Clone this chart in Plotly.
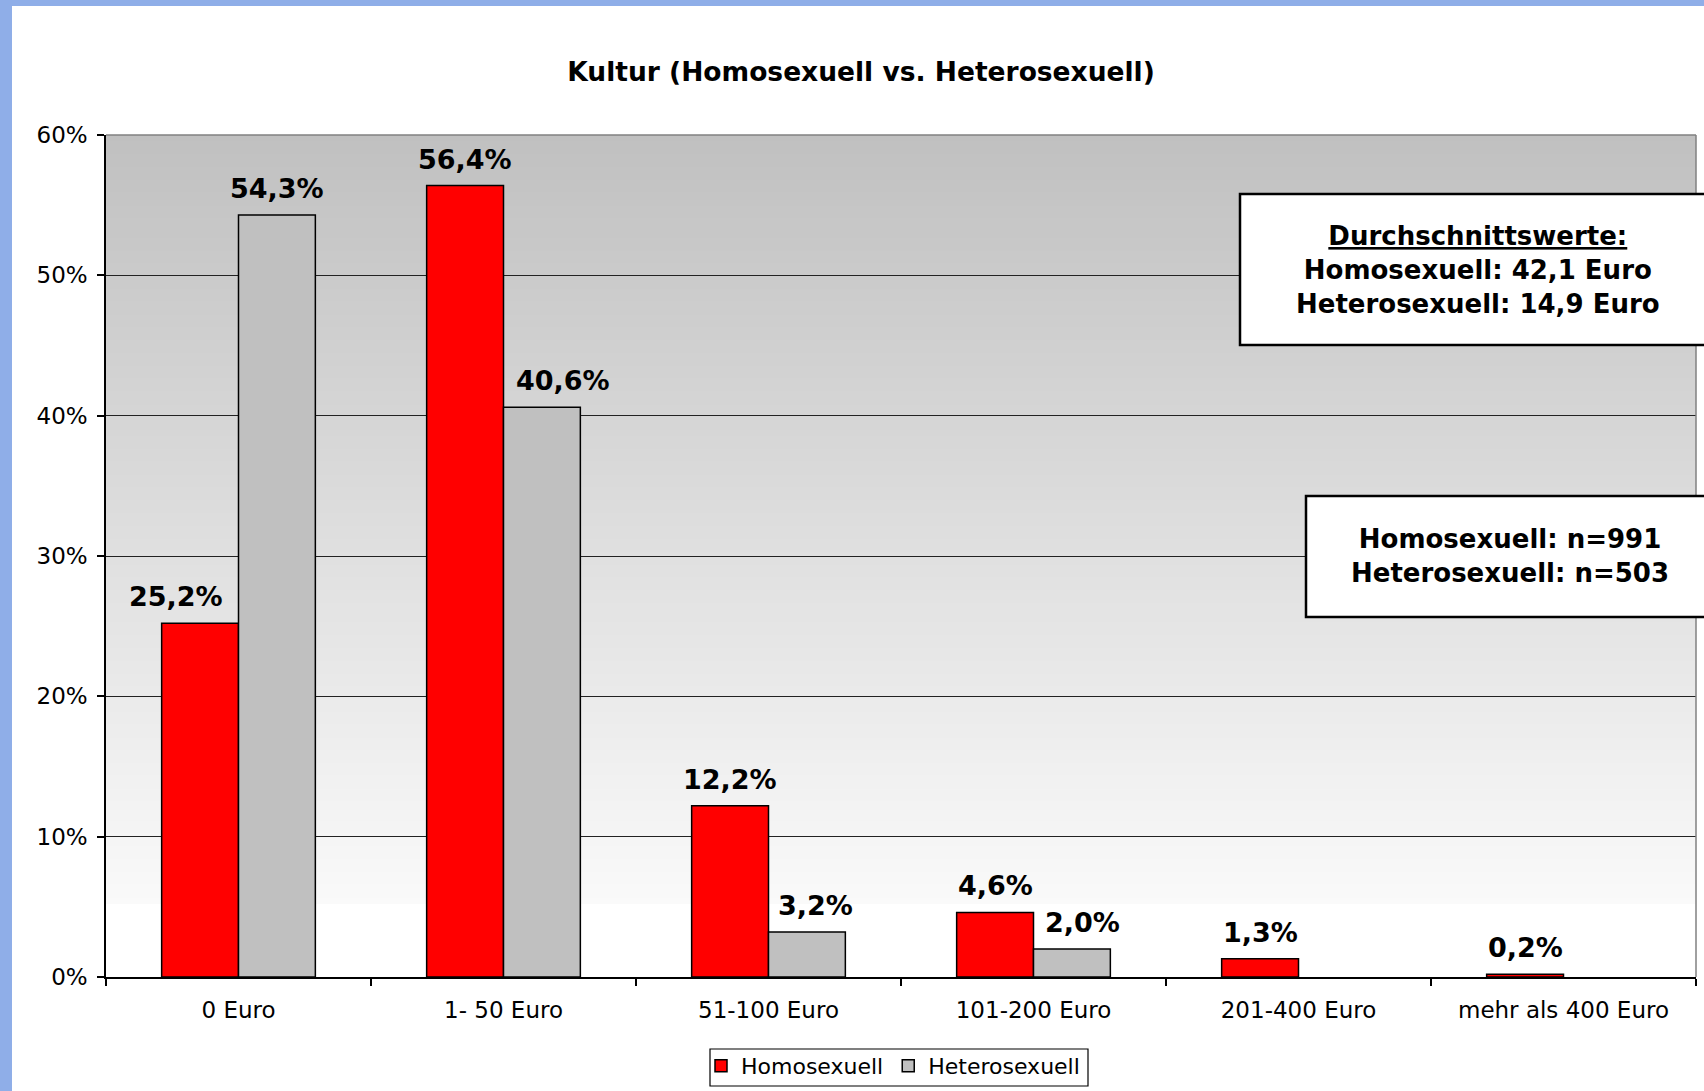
import plotly.graph_objects as go

categories = ['0 Euro', '1- 50 Euro', '51-100 Euro', '101-200 Euro',
              '201-400 Euro', 'mehr als 400 Euro']
homo = [25.2, 56.4, 12.2, 4.6, 1.3, 0.2]
hetero = [54.3, 40.6, 3.2, 2.0, None, None]
y_ticks = [0, 10, 20, 30, 40, 50, 60]

avg_text = '<u>Durchschnittswerte:</u><br>Homosexuell: 42,1 Euro<br>Heterosexuell: 14,9 Euro'
n_text = 'Homosexuell: n=991<br>Heterosexuell: n=503'

W, H = 1704, 1091
L, R, T, B = 106, 8, 135, 114
pw, ph = W - L - R, H - T - B
FONT = 'DejaVu Sans'
bw = 0.29
# horizontal nudges (px) of some data labels, as in the original layout
homo_nudge = [-24, 0, 0, 0, 0, 0]
hetero_nudge = [0, 21, 9, 11, 0, 0]


# pixel -> paper coords
def px(x):
    return (x - L) / pw


def py(y):
    return (H - B - y) / ph


def fmt(v):
    return f'{v:.1f}%'.replace('.', ',')


idx = list(range(len(categories)))

fig = go.Figure()
fig.add_trace(go.Bar(x=idx, y=homo, name='Homosexuell', width=bw, offset=-bw,
                     marker=dict(color='#ff0000', line=dict(color='black', width=1.5))))
fig.add_trace(go.Bar(x=idx, y=hetero, name='Heterosexuell', width=bw, offset=0,
                     marker=dict(color='#c0c0c0', line=dict(color='black', width=1.5))))

shapes = []
# gradient background of plot area (bands overlap a little to avoid seams)
n_bands = 120
g_end = py(904)
step = (1 - g_end) / n_bands
for k in range(n_bands):
    y1 = 1 - step * k
    y0 = max(g_end, y1 - step * 1.8)
    c = int(round(192 + (250 - 192) * (k + 0.5) / n_bands))
    shapes.append(dict(type='rect', xref='x domain', yref='y domain', x0=0, x1=1,
                       y0=y0, y1=y1, fillcolor=f'rgb({c},{c},{c})',
                       line=dict(width=0), layer='below'))
# top / right border of plot area
shapes.append(dict(type='line', xref='x domain', yref='y domain', x0=0, x1=1, y0=1, y1=1,
                   line=dict(color='#808080', width=1.5)))
shapes.append(dict(type='line', xref='x domain', yref='y domain', x0=1, x1=1, y0=0, y1=1,
                   line=dict(color='#808080', width=1.5)))
# info boxes
shapes.append(dict(type='rect', xref='paper', yref='paper', x0=px(1240), x1=px(1725),
                   y0=py(345), y1=py(194), fillcolor='white', line=dict(color='black', width=2.5)))
shapes.append(dict(type='rect', xref='paper', yref='paper', x0=px(1306), x1=px(1725),
                   y0=py(617), y1=py(496), fillcolor='white', line=dict(color='black', width=2.5)))
# legend frame
shapes.append(dict(type='rect', xref='paper', yref='paper', x0=px(710), x1=px(1088),
                   y0=py(1086), y1=py(1049), fillcolor='white', line=dict(color='black', width=1.2)))
# blue frame of the page
shapes.append(dict(type='rect', xref='paper', yref='paper', x0=px(0), x1=px(12),
                   y0=py(H), y1=py(0), fillcolor='#8faee8', line=dict(width=0)))
shapes.append(dict(type='rect', xref='paper', yref='paper', x0=px(0), x1=px(W),
                   y0=py(6), y1=py(0), fillcolor='#8faee8', line=dict(width=0)))

annotations = []
for i in idx:
    for v, off, nx in ((homo[i], -bw / 2, homo_nudge[i]), (hetero[i], bw / 2, hetero_nudge[i])):
        if v is None:
            continue
        annotations.append(dict(x=i + off, y=v, text=fmt(v), showarrow=False,
                                yanchor='bottom', yshift=9, xshift=nx,
                                font=dict(family=FONT, size=27, color='black', weight='bold')))
annotations.append(dict(xref='paper', yref='paper', x=px(1478), y=py(270), text=avg_text,
                        showarrow=False, xanchor='center', yanchor='middle',
                        font=dict(family=FONT, size=26, color='black', weight='bold')))
annotations.append(dict(xref='paper', yref='paper', x=px(1510), y=py(556), text=n_text,
                        showarrow=False, xanchor='center', yanchor='middle',
                        font=dict(family=FONT, size=26, color='black', weight='bold')))

fig.update_layout(
    width=W, height=H,
    margin=dict(l=L, r=R, t=T, b=B, autoexpand=False),
    paper_bgcolor='white', plot_bgcolor='white',
    font=dict(family=FONT, size=22, color='black'),
    title=dict(text='Kultur (Homosexuell vs. Heterosexuell)', xref='container',
               x=861 / W, xanchor='center', yref='container', y=1 - 72 / H, yanchor='middle',
               font=dict(family=FONT, size=26.5, color='black', weight='bold')),
    barmode='overlay',
    showlegend=True,
    legend=dict(orientation='h', x=px(893), xanchor='center', y=py(1045), yanchor='top',
                bgcolor='rgba(0,0,0,0)', borderwidth=0, itemwidth=30,
                font=dict(family=FONT, size=22, color='black'), traceorder='normal'),
    shapes=shapes,
    annotations=annotations,
)
fig.update_xaxes(range=[-0.5, len(categories) - 0.5], tickmode='array', tickvals=idx,
                 ticktext=categories, ticks='outside', ticklen=12, tickcolor='rgba(0,0,0,0)',
                 showline=True, linecolor='black', linewidth=1.5, showgrid=False,
                 tickfont=dict(size=23), automargin=False,
                 minor=dict(tickmode='linear', tick0=-0.5, dtick=1, ticks='outside',
                            ticklen=7, tickcolor='black', tickwidth=1.5))
fig.update_yaxes(range=[0, 60], tickmode='array', tickvals=y_ticks,
                 ticktext=[f'{v}%' for v in y_ticks],
                 ticks='outside', ticklen=7, tickcolor='black', tickwidth=1.5,
                 showline=True, linecolor='black', linewidth=1.5, automargin=False,
                 showgrid=True, gridcolor='#222222', gridwidth=1, zeroline=False,
                 tickfont=dict(size=23), ticklabelstandoff=5)

fig.write_html("out.html", config={'displayModeBar': False},
               post_script="document.body.style.margin='0';")
